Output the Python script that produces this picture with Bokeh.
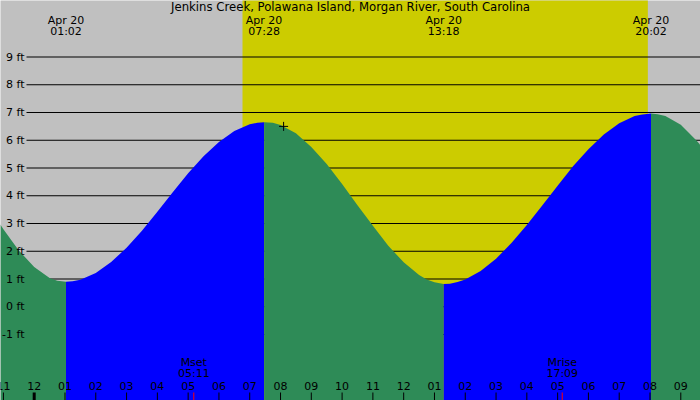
import numpy as np
from bokeh.plotting import figure
from bokeh.models import Range1d
from bokeh.core.properties import value
from bokeh.embed import file_html
from bokeh.resources import INLINE

# ---------------- data (hours after midnight Apr 20, feet) ----------------
TIDE_TIME = [-1.1, -1.0, -0.5, 0.0, 0.5, 0.75, 1.033, 1.25, 1.5, 2.0, 2.5, 3.0, 3.5,
             4.0, 4.5, 5.0, 5.5, 6.0, 6.5, 7.0, 7.25, 7.467, 7.75, 8.0, 8.5, 9.0,
             9.5, 10.0, 10.5, 11.0, 11.5, 12.0, 12.5, 12.75, 13.0, 13.3, 13.5, 13.75,
             14.0, 14.5, 15.0, 15.5, 16.0, 16.5, 17.0, 17.5, 18.0, 18.5, 19.0, 19.5,
             19.75, 20.033, 20.25, 20.5, 21.0, 21.5, 21.7]
TIDE_FT = [2.96, 2.79, 2.03, 1.43, 1.04, 0.94, 0.90, 0.92, 0.97, 1.22, 1.61, 2.13, 2.74,
           3.42, 4.13, 4.81, 5.42, 5.94, 6.33, 6.575, 6.63, 6.65, 6.63, 6.55, 6.25, 5.76,
           5.14, 4.42, 3.66, 2.92, 2.20, 1.60, 1.14, 0.98, 0.88, 0.82, 0.83, 0.89,
           0.98, 1.29, 1.73, 2.30, 2.95, 3.65, 4.36, 5.06, 5.68, 6.21, 6.61, 6.87,
           6.93, 6.96, 6.94, 6.87, 6.56, 6.00, 5.75]

EXTREME_TIME = [1.033, 7.467, 13.3, 20.033]
EXTREME_KIND = ["L", "H", "L", "H"]
EXTREME_DATE = ["Apr 20", "Apr 20", "Apr 20", "Apr 20"]
EXTREME_CLOCK = ["01:02", "07:28", "13:18", "20:02"]

SUNRISE = 6.765
SUNSET = 19.93

MOON_TIME = [5.183, 17.15]
MOON_EVENT = ["Mset", "Mrise"]
MOON_CLOCK = ["05:11", "17:09"]

NOW_TIME = [8.1]
NOW_FT = [6.5]

HOUR_TICKS = list(range(-1, 22))
HOUR_LABELS = ["11", "12", "01", "02", "03", "04", "05", "06", "07", "08", "09", "10",
               "11", "12", "01", "02", "03", "04", "05", "06", "07", "08", "09"]

FT_LEVELS = [-1, 0, 1, 2, 3, 4, 5, 6, 7, 8, 9]
FT_LABELS = ["-1 ft", "0 ft", "1 ft", "2 ft", "3 ft", "4 ft", "5 ft", "6 ft", "7 ft", "8 ft", "9 ft"]

TITLE = "Jenkins Creek, Polawana Island, Morgan River, South Carolina"

# ---------------- layout ----------------
W, H = 700, 400
PX_PER_HOUR = 30.79
X_ORIGIN_PX = 33.7
PX_PER_FT = 27.75
Y_ZERO_PX = 306.25
TEXT_SHIFT = -4.5   # baseline correction for svg text

X0 = -X_ORIGIN_PX / PX_PER_HOUR
X1 = (W - X_ORIGIN_PX) / PX_PER_HOUR
Y1 = Y_ZERO_PX / PX_PER_FT
Y0 = (Y_ZERO_PX - H) / PX_PER_FT

def ypx(py):
    return (Y_ZERO_PX - py) / PX_PER_FT

def xpx(px):
    return (px - X_ORIGIN_PX) / PX_PER_HOUR

FONT = value("DejaVu Sans")
FS = "11px"

GRAY = "#c0c0c0"
YELLOW = "#cccc00"
GREEN = "#2e8b57"
BLUE = "#0000ff"

p = figure(width=W, height=H, x_range=Range1d(X0, X1), y_range=Range1d(Y0, Y1),
           output_backend="svg", toolbar_location=None, min_border=0,
           x_axis_type=None, y_axis_type=None,
           background_fill_color=GRAY, border_fill_color=GRAY, outline_line_color=None)

# daylight
p.quad(left=[SUNRISE], right=[SUNSET], bottom=[Y0 - 1], top=[Y1 + 1],
       fill_color=YELLOW, line_color=None)

# grid lines
p.segment(x0=[xpx(26)] * len(FT_LEVELS), x1=[X1 + 1] * len(FT_LEVELS),
          y0=FT_LEVELS, y1=FT_LEVELS, line_color="black", line_width=1)

# tide fill, blue while rising, green while falling
t = np.array(TIDE_TIME)
h = np.array(TIDE_FT)
bounds = [TIDE_TIME[0]] + EXTREME_TIME + [TIDE_TIME[-1]]
for i in range(len(bounds) - 1):
    a, b = bounds[i], bounds[i + 1]
    m = (t >= a - 1e-9) & (t <= b + 1e-9)
    rising = i < len(EXTREME_KIND) and EXTREME_KIND[i] == "H"
    col = BLUE if rising else GREEN
    p.varea(x=t[m], y1=np.full(m.sum(), Y0 - 1), y2=h[m], fill_color=col)

def label(x, y, text, y_offset, align="center", x_offset=0, size=FS):
    p.text(x=x, y=y, text=text, x_offset=x_offset, y_offset=y_offset + TEXT_SHIFT,
           text_align=align, text_baseline="alphabetic", text_font=FONT,
           text_font_size=size, text_color="black")

# y labels
label([X0] * len(FT_LEVELS), FT_LEVELS, FT_LABELS, 4.7, align="right", x_offset=24)

# title
label([xpx(350)], [Y1], [TITLE], 11.3, size="11.7px")

# extreme labels
label(EXTREME_TIME, [Y1] * 4, EXTREME_DATE, 24)
label(EXTREME_TIME, [Y1] * 4, EXTREME_CLOCK, 35.7)

# moon labels
label(MOON_TIME, [Y1] * 2, MOON_EVENT, 366)
label(MOON_TIME, [Y1] * 2, MOON_CLOCK, 377.7)

# hour labels and ticks
label(HOUR_TICKS, [Y1] * len(HOUR_TICKS), HOUR_LABELS, 390)
p.segment(x0=HOUR_TICKS, x1=HOUR_TICKS, y0=[ypx(392)] * len(HOUR_TICKS),
          y1=[Y0 - 1] * len(HOUR_TICKS), line_color="black",
          line_width=[3 if hh == 0 else 1 for hh in HOUR_TICKS])
p.segment(x0=MOON_TIME, x1=MOON_TIME, y0=[ypx(392)] * 2, y1=[Y0 - 1] * 2,
          line_color="red", line_width=1)

# current time marker
p.scatter(x=NOW_TIME, y=NOW_FT, marker="cross", size=9, line_color="black", line_width=1)

open("out.html", "w").write(file_html(p, INLINE))
